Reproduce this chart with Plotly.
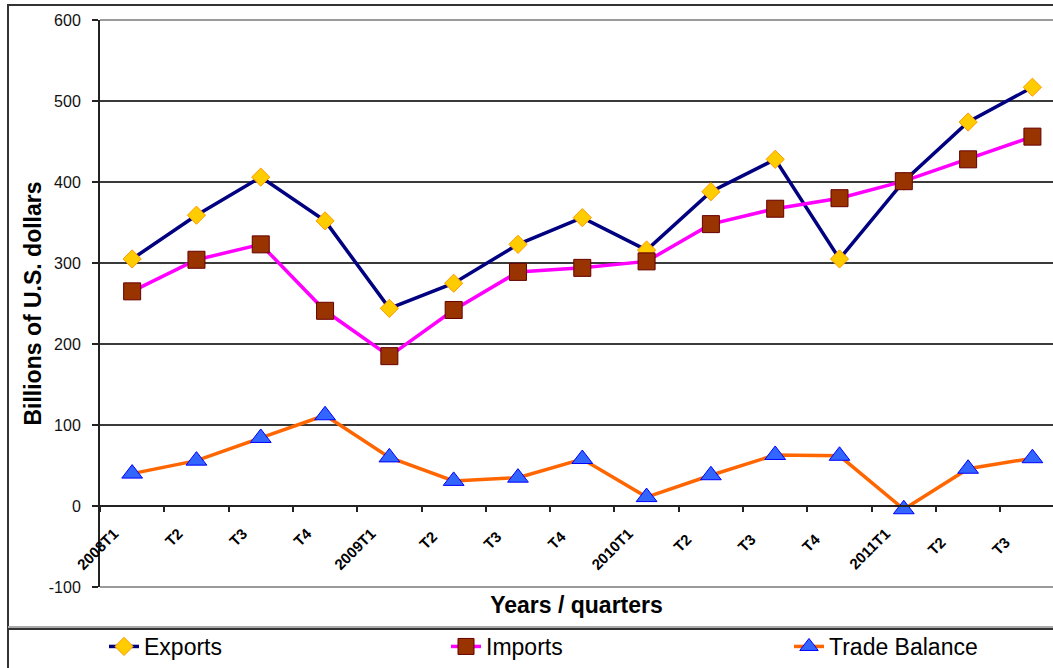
import plotly.graph_objects as go

# Quarterly trade figures, billions of U.S. dollars
quarters = ["2008T1", "T2", "T3", "T4",
            "2009T1", "T2 ", "T3 ", "T4 ",
            "2010T1", "T2  ", "T3  ", "T4  ",
            "2011T1", "T2   ", "T3   "]
exports = [305, 359, 406, 352, 244, 275, 323, 356, 316, 388, 428, 305, 401, 474, 517]
imports = [265, 304, 323, 241, 185, 242, 289, 294, 302, 348, 367, 380, 401, 428, 456]
trade_balance = [40, 56, 84, 112, 60, 31, 35, 58, 11, 38, 63, 62, -4, 46, 59]

y_ticks = [-100, 0, 100, 200, 300, 400, 500, 600]
y_tick_labels = ["-100", "0", "100", "200", "300", "400", "500", "600"]

Y_MIN, Y_MAX = -100, 600
W, H = 1053, 668
ML, MR, MT, MB = 100, 0, 20, 80
PW, PH = W - ML - MR, H - MT - MB


def px_x(p):
    return (p - ML) / PW


def px_y(p):
    return (H - MB - p) / PH


LEGEND_FONT = dict(size=23, family="Arial, Liberation Sans, sans-serif", color="black")


def legend_box(left_px):
    return dict(orientation="h", x=px_x(left_px), xanchor="left",
                y=px_y(648), yanchor="middle", font=LEGEND_FONT,
                bgcolor="rgba(0,0,0,0)", borderwidth=0)


fig = go.Figure()
fig.add_trace(go.Scatter(
    x=quarters, y=exports, name="Exports", mode="lines+markers", legend="legend",
    line=dict(color="#000080", width=3.5),
    marker=dict(symbol="diamond", size=14, color="#FFCC00",
                line=dict(color="#FF9900", width=1)),
))
fig.add_trace(go.Scatter(
    x=quarters, y=imports, name="Imports", mode="lines+markers", legend="legend2",
    line=dict(color="#FF00FF", width=3.5),
    marker=dict(symbol="square", size=17, color="#993300",
                line=dict(color="#660000", width=1)),
))
fig.add_trace(go.Scatter(
    x=quarters, y=trade_balance, name="Trade Balance", mode="lines+markers", legend="legend3",
    line=dict(color="#FF6600", width=3.5),
    marker=dict(symbol="triangle-up", size=18, color="#3366FF",
                line=dict(color="#0000FF", width=1)),
))

zero_pos = (0 - Y_MIN) / (Y_MAX - Y_MIN)

fig.update_layout(
    width=W, height=H,
    margin=dict(l=ML, r=MR, t=MT, b=MB),
    paper_bgcolor="white", plot_bgcolor="white",
    font=dict(family="Arial, Liberation Sans, sans-serif", color="black"),
    showlegend=True,
    legend=legend_box(104),
    legend2=legend_box(446),
    legend3=legend_box(789),
    xaxis=dict(
        type="category", range=[-0.5, 14.32],
        anchor="free", position=zero_pos,
        showline=True, linecolor="#222222", linewidth=2,
        ticks="outside", tickson="boundaries", ticklen=5, tickcolor="#222222", tickwidth=2,
        tickangle=-45, ticklabelstandoff=12, ticklabelshift=-18,
        tickfont=dict(size=15, family="Arial, Liberation Sans, sans-serif",
                      weight="bold", color="black"),
        showgrid=False, zeroline=False,
        title=dict(text="<b>Years / quarters</b>", standoff=24,
                   font=dict(size=23, color="black")),
    ),
    yaxis=dict(
        range=[Y_MIN, Y_MAX], tickmode="array",
        tickvals=y_ticks, ticktext=y_tick_labels,
        showline=True, linecolor="#222222", linewidth=2,
        ticks="outside", ticklen=6, tickcolor="#222222", tickwidth=2,
        ticklabelstandoff=8,
        tickfont=dict(size=16, color="#111111"),
        showgrid=True, gridcolor="#3a3a3a", gridwidth=1.6,
        zeroline=False,
        title=dict(text="<b>Billions of U.S. dollars</b>", standoff=1,
                   font=dict(size=23, color="black")),
    ),
    shapes=[
        # light plot-area border along the top and bottom
        dict(type="line", xref="paper", yref="paper", x0=0, x1=1.05, y0=1, y1=1,
             line=dict(color="#9a9a9a", width=2), layer="above"),
        dict(type="line", xref="paper", yref="paper", x0=0, x1=1.05, y0=0, y1=0,
             line=dict(color="#9a9a9a", width=2), layer="above"),
        # outer chart frame
        dict(type="rect", xref="paper", yref="paper",
             x0=px_x(8), x1=1.1, y0=px_y(700), y1=px_y(5),
             line=dict(color="#333333", width=2), layer="below"),
        # separator above the legend band
        dict(type="line", xref="paper", yref="paper",
             x0=px_x(8), x1=1.1, y0=px_y(628), y1=px_y(628),
             line=dict(color="#aaaaaa", width=2), layer="below"),
        dict(type="line", xref="paper", yref="paper",
             x0=px_x(8), x1=1.1, y0=px_y(630), y1=px_y(630),
             line=dict(color="#333333", width=2), layer="below"),
    ],
)

fig.write_html("out.html")
